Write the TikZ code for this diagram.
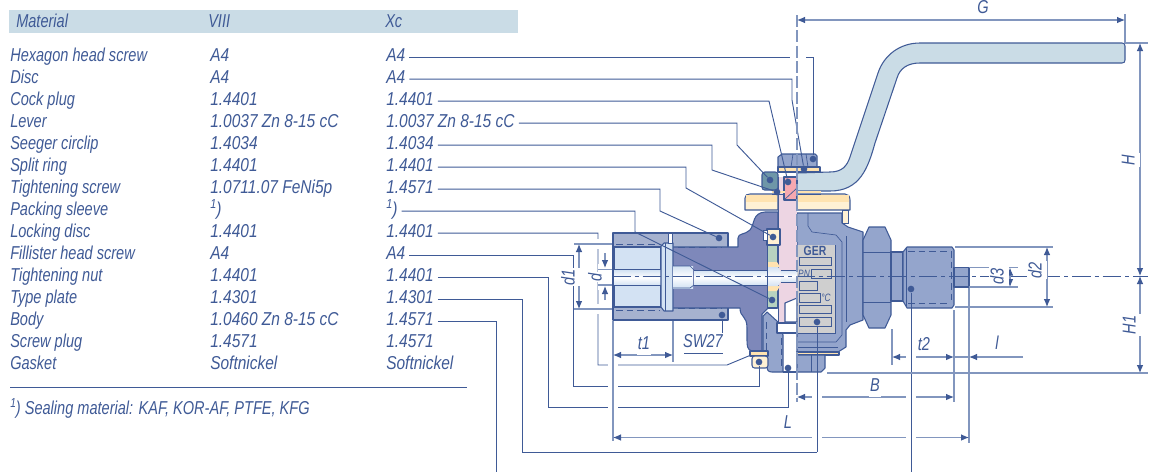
\documentclass[tikz,border=0pt]{standalone}
\usepackage{fontspec}
\usepackage{xcolor}
\usetikzlibrary{positioning,arrows.meta}

\newfontfamily\partfont{Liberation Sans}[FakeStretch=0.78]
\newfontfamily\valfont{Liberation Sans}[FakeStretch=0.83]

\definecolor{linecol}{HTML}{3F5A96}
\definecolor{dimcol}{HTML}{8296BE}
\definecolor{bandcol}{HTML}{CADCE6}
\definecolor{sleevecol}{HTML}{A6B2CF}
\definecolor{darkcol}{HTML}{7E88BA}
\definecolor{lightcol}{HTML}{94A5CC}
\definecolor{pinkcol}{HTML}{EDD5E3}
\definecolor{redcol}{HTML}{F5A8B0}
\definecolor{yellowcol}{HTML}{FFE3B0}
\definecolor{creamcol}{HTML}{FFF1D4}
\definecolor{greencol}{HTML}{B7D2C0}
\definecolor{tealcol}{HTML}{6E96A8}
\definecolor{borecol}{HTML}{D3E2F3}
\definecolor{platecol}{HTML}{CFCFCF}

\tikzset{
    txt/.style={font=\partfont\itshape\fontsize{14}{15}\selectfont, text=linecol, inner sep=0pt, text height=10pt, text depth=3pt},
    cell/.style={txt, anchor=west, yshift=-0.8pt},
    val/.style={cell, font=\valfont\itshape\fontsize{14}{15}\selectfont},
    lbl/.style={txt, fill=white, inner sep=1pt},
    part/.style={draw=linecol, line width=0.8pt, line join=round},
    thin part/.style={draw=linecol, line width=0.5pt},
    thread/.style={draw=linecol, line width=0.6pt, dashed, dash pattern=on 5pt off 3pt},
    dot/.style={circle, fill=linecol, inner sep=0pt, minimum size=5pt},
    leader/.style={draw=linecol, line width=0.7pt},
    rowleader/.style={leader, shorten <=3pt},
    extline/.style={draw=dimcol, line width=0.8pt},
    knock/.style={preaction={draw=white, line width=8pt}},
    dimline/.style={draw=dimcol, line width=0.8pt, {Latex[length=6pt,width=5pt,color=linecol]}-{Latex[length=6pt,width=5pt,color=linecol]}},
    oneway/.style={draw=dimcol, line width=0.8pt, -{Latex[length=6pt,width=5pt,color=linecol]}},
    axis/.style={draw=linecol, line width=0.6pt, dash pattern=on 14pt off 3pt on 3pt off 3pt},
    plug/.style={top color=borecol, bottom color=borecol, middle color=white},
}

\begin{document}
\begin{tikzpicture}[x=0.75pt,y=-0.75pt]
    \useasboundingbox (0,0) rectangle (1149,472);

    % table head
    \fill[bandcol] (9,10) rectangle (518,33);
    \node[cell] (headMat) at (16,22) {Material};
    \node[cell] (headA) at (208,22) {VIII};
    \node[cell] (headB) at (385,22) {Xc};

    % table rows
    \foreach \n/\y/\name/\mata/\matb in {
        screw/56/Hexagon head screw/A4/A4,
        disc/78/Disc/A4/A4,
        cock/100/Cock plug/1.4401/1.4401,
        lever/122/Lever/1.0037 Zn 8-15 cC/1.0037 Zn 8-15 cC,
        clip/144/Seeger circlip/1.4034/1.4034,
        ring/166/Split ring/1.4401/1.4401,
        tight/188/Tightening screw/1.0711.07 FeNi5p/1.4571,
        sleeve/210/Packing sleeve/\textsuperscript{1}\kern-0.5pt)/\textsuperscript{1}\kern-0.5pt),
        lock/232/Locking disc/1.4401/1.4401,
        fill/254/Fillister head screw/A4/A4,
        nut/276/Tightening nut/1.4401/1.4401,
        plate/298/Type plate/1.4301/1.4301,
        body/320/Body/1.0460 Zn 8-15 cC/1.4571,
        plugs/342/Screw plug/1.4571/1.4571,
        gasket/364/Gasket/Softnickel/Softnickel} {
        \node[cell] (\n Name) at (10,\y) {\name};
        \node[val] (\n Va) at (210,\y) {\mata};
        \node[val] (\n Xc) at (386,\y) {\matb};
    }
    \coordinate (ruleL) at (10,387);
    \coordinate (ruleR) at (467,387);
    \draw[leader] (ruleL) -- (ruleR);
    \node[cell] (note) at (10,409) {\textsuperscript{1}\kern-0.5pt) Sealing material: KAF, KOR-AF, PTFE, KFG};

    % socket end
    \draw[part,fill=sleevecol] (613,233) rectangle (728,320);
    \draw[part,fill=borecol] (614,247) rectangle (661,307);
    \draw[part,fill=darkcol] (672,247) -- (729,247) -- (738,247) -- (738,238) .. controls (738,233) and (745,235) .. (750,230) .. controls (755,224) and (752,213) .. (765,212) -- (778,212) -- (778,246) -- (768,246) -- (768,308) -- (762,314) -- (762,351) -- (752,351) .. controls (747,350) and (747,345) .. (747,340) -- (747,328) .. controls (747,315) and (740,318) .. (740,308) -- (672,308) -- cycle;
    \draw[thread] (616,244) -- (660,244);
    \draw[thread] (616,310) -- (660,310);
    \draw[thread] (678,247) -- (722,247);
    \draw[thread] (678,308) -- (722,308);

    % stem in the bore
    \shade[plug] (614,270) rectangle (661,285);
    \draw[thin part] (598,269.5) -- (661,269.5);
    \draw[thin part] (598,285) -- (661,285);
    \draw[part,fill=borecol] (661,246) -- (664,243) -- (673,243) -- (673,311) -- (664,311) -- (661,307) -- cycle;
    \draw[thin part] (665,243) -- (665,311);
    \draw[thin part,fill=white] (668,233) rectangle (672,243);
    \shade[plug] (673,266) rectangle (693,288);
    \draw[thin part] (673,266) -- (690,266) -- (694,270) -- (694,285) -- (690,288) -- (673,288);
    \shade[plug] (694,270) rectangle (770,285);
    \draw[thin part] (694,270) -- (770,270);
    \draw[thin part] (694,285) -- (770,285);

    % lever
    \draw[part,fill=bandcol] (797,173) -- (830,172) .. controls (842,172) and (847,166) .. (850,157) -- (878,73) .. controls (884,55) and (900,43) .. (920,43) -- (1122,43) .. controls (1124,43) and (1125,44) .. (1125,46) -- (1125,60) .. controls (1125,62) and (1124,63) .. (1122,63) -- (920,63) .. controls (908,63) and (900,68) .. (897,78) -- (875,143) .. controls (868,168) and (860,191) .. (830,191) -- (797,191) -- cycle;

    % right body
    \draw[part,fill=lightcol] (797,213) -- (842,213) -- (842,223) -- (848,227) -- (863,232) -- (863,320) -- (850,325) -- (846,330) -- (846,347) -- (838,352) -- (797,352) -- cycle;
    \draw[thin part] (808,213) -- (808,226) -- (812,232) -- (836,235) -- (842,242) -- (842,335) -- (836,342) -- (797,342);
    \draw[thin part] (846,236) -- (846,322);
    \draw[thin part] (797,347) -- (838,347);

    % type plate
    \fill[platecol] (797,245) rectangle (835,333);
    \draw[thin part] (835,245) -- (835,333) -- (797,333);
    \foreach \n/\xa/\ya/\xb/\yb in {boxa/799/257/831/265, boxb/811/269/831/278, boxc/799/281/817/290, boxd/799/293/820/302, boxe/799/305/831/313, boxf/799/317/831/326} {
        \draw[thin part,fill=platecol] (\xa,\ya) rectangle (\xb,\yb);
    }
    \node[font=\partfont\bfseries\fontsize{10}{10}\selectfont, text=linecol, inner sep=0pt] (ger) at (815,251) {GER};
    \node[font=\partfont\itshape\fontsize{8}{8}\selectfont, text=linecol, inner sep=0pt] (pn) at (804,274) {PN};
    \node[font=\partfont\itshape\fontsize{8}{8}\selectfont, text=linecol, inner sep=0pt] (temp) at (826,298) {°C};

    % hexagon and threaded end
    \draw[part,fill=lightcol] (869,227) -- (885,227) -- (891,240) -- (891,315) -- (885,328) -- (869,328) -- (863,315) -- (863,240) -- cycle;
    \draw[thin part] (863,252) -- (891,252);
    \draw[thin part] (863,302) -- (891,302);
    \draw[part,fill=lightcol] (891,252) rectangle (903,301);
    \draw[part,fill=lightcol] (903,252) -- (907,247) -- (952,247) -- (954,250) -- (954,305) -- (952,308) -- (907,308) -- (903,301) -- cycle;
    \draw[thin part] (906,248) -- (906,307);
    \draw[thread] (908,251) -- (950,251);
    \draw[thread] (908,303) -- (950,303);
    \draw[thread] (951,251) -- (951,303);
    \draw[part,fill=lightcol] (954,267.5) rectangle (969,287);

    % stem column
    \fill[pinkcol] (778,177) rectangle (797,322);
    \draw[thin part] (778,177) -- (778,322);
    \draw[part,fill=redcol] (784,177) -- (797,177) -- (797,200) -- (784,200) -- cycle;
    \draw[thin part] (784,200) -- (797,188);
    \draw[part,fill=greencol] (767.5,245) rectangle (777.5,308);
    \draw[part,fill=creamcol] (767,229) rectangle (780,245);
    \draw[thin part,fill=white] (763,230) rectangle (767,240);
    \fill[yellowcol] (768,262) -- (777,262) -- (780,267) -- (768,267) -- cycle;
    \fill[yellowcol] (768,291) -- (777,291) -- (780,286) -- (768,286) -- cycle;
    \shade[plug] (768,267) -- (778,267) -- (781,272) -- (781,281) -- (778,286) -- (768,286) -- cycle;
    \shade[plug] (781,270) rectangle (797,282);
    \draw[thin part] (781,270) -- (797,270);
    \draw[thin part] (781,282) -- (797,282);

    % cap with its washers
    \draw[part,fill=creamcol] (745,198) .. controls (745,195) and (747,194) .. (750,194) -- (778,194) -- (778,210) -- (745,210) -- cycle;
    \draw[part,fill=creamcol] (797,194) -- (845,194) .. controls (848,194) and (850,196) .. (850,200) -- (850,210) -- (797,210) -- cycle;
    \fill[yellowcol] (746,195) rectangle (777,202);
    \fill[yellowcol] (798,195) rectangle (849,202);
    \draw[thin part,fill=creamcol] (842,210) rectangle (848,223);
    \draw[part,fill=lightcol] (782,154) -- (815,154) -- (817,156) -- (817,167) -- (778,167) -- (778,157) -- cycle;
    \draw[thin part] (793,154) -- (791,167);
    \draw[thin part] (806,154) -- (808,167);
    \draw[part,fill=yellowcol] (778,167) rectangle (820,172);
    \draw[part,fill=tealcol,rounded corners=2pt] (762,172) rectangle (778,190);
    \fill[yellowcol] (772,191) rectangle (785,193);
    \fill[yellowcol] (796,191) rectangle (821,193);
    \draw[thin part] (772,194) -- (785,194);
    \draw[thin part] (796,194) -- (821,194);

    % lower part of the socket side
    \draw[part,fill=lightcol] (763,316) -- (767,312) -- (778,322) -- (783,335) -- (783,372) -- (772,372) .. controls (768,372) and (767,370) .. (767,366) -- (767,351) -- (763,351) -- cycle;
    \draw[thread] (766,322) -- (766,350);
    \draw[thread] (781,338) -- (781,370);
    \draw[part,fill=white] (777,323) rectangle (797,333);
    \draw[part,fill=white] (785,303) -- (797,298) -- (797,322) -- (785,322) -- cycle;
    \draw[part,fill=yellowcol] (750,351) rectangle (768,356);
    \draw[part,fill=creamcol,rounded corners=2pt] (752,356) rectangle (768,368);
    \coordinate (baseL) at (783,372);
    \coordinate (baseR) at (797,372);
    \draw[part] (baseL) -- (baseR);

    % gasket and screw plug
    \draw[part,fill=yellowcol] (797,352) rectangle (839,355);
    \draw[part,fill=lightcol] (797,355) -- (825,355) -- (825,368) -- (821,372) -- (797,372) -- cycle;
    \draw[thin part] (811,355) -- (811,372);

    % reference points
    \node[dot] (dotScrew) at (813,159) {};
    \node[dot] (dotDisc) at (804,169) {};
    \node[dot] (dotCock) at (788,182) {};
    \node[dot] (dotLever) at (770,180) {};
    \node[dot] (dotClip) at (777,192) {};
    \node[dot] (dotRing) at (773,237) {};
    \node[dot] (dotTight) at (719,238) {};
    \node[dot] (dotSleeve) at (772,300) {};
    \node[dot] (dotSw) at (722,315) {};
    \node[dot] (dotFill) at (759,362) {};
    \node[dot] (dotNut) at (788,368) {};
    \node[dot] (dotPlate) at (817,322) {};
    \node[dot] (dotBody) at (911,289) {};

    \foreach \n/\x/\y in {
        discPt/792/100, cockPt/769/100, leverPt/737/145, clipPt/712/170, ringPt/686/188,
        tightPt/660/211, sleevePt/635/232, lockPt/598/365, lockPu/727/365, lockPv/751/355,
        fillPt/573/386, nutPt/548/407, platePt/522/452, platePu/817/452, platePv/817/374, bodyPt/496/472,
        neckPt/911/312, neckPu/911/472, swPt/722/353, swPu/684/353} {
        \coordinate (\n) at (\x,\y);
    }

    % leaders from the table
    \draw[rowleader] (screwXc.east) -| (dotScrew);
    \draw[rowleader] (discXc.east) -| (discPt) -- (dotDisc);
    \draw[rowleader] (cockXc.east) -- (cockXc.east -| cockPt) -- (dotCock);
    \draw[rowleader] (leverXc.east) -| (leverPt) -- (dotLever);
    \draw[rowleader] (clipXc.east) -| (clipPt) -- (dotClip);
    \draw[rowleader] (ringXc.east) -| (ringPt) -- (dotRing);
    \draw[rowleader] (tightXc.east) -| (tightPt) -- (dotTight);
    \draw[rowleader] (sleeveXc.east) -| (sleevePt) -- (dotSleeve);
    \draw[rowleader] (lockXc.east) -| (lockPt) -- (lockPu) -- (lockPv);
    \draw[rowleader] (fillXc.east) -| (fillPt) -| (dotFill);
    \draw[rowleader] (nutXc.east) -| (nutPt) -| (dotNut);
    \draw[rowleader] (plateXc.east) -| (platePt) -- (platePu);
    \draw[leader] (dotPlate) -- (platePv);
    \draw[rowleader] (bodyXc.east) -| (bodyPt);
    \draw[leader] (dotSw) -- (swPt) -- (swPu);
    \draw[leader] (dotBody) -- (neckPt);

    \foreach \n/\x/\y in {
        gL/797/20, gR/1125/20, gTop/1125/14, gBot/1125/43,
        hTop/1140/43, hMid/1140/276, hBot/1140/373, hExtL/1125/43, hExtR/1148/43,
        lowL/827/373, lowR/1148/373, axisL/612/276, axisR/1148/276,
        dbTop/1047/247, dbBot/1047/307, dbUpL/955/247, dbUpR/1053/247, dbLoL/955/307, dbLoR/1053/307,
        dcTop/1010/267.5, dcBot/1010/287, dcUpL/969/267.5, dcUpR/1018/267.5, dcLoL/969/287, dcLoR/1018/287,
        daTop/579/244, daBot/579/309, daUpL/574/244, daUpR/612/244, daLoL/574/309, daLoR/612/309,
        inUpL/598/269.5, inUpR/612/269.5, inLoL/598/285, inLoR/612/285,
        dUp/605/253, dUpTip/605/268, dLow/605/300, dLowTip/605/286,
        sockA/613/321, sockB/613/441, sockC/673/321, sockD/673/362,
        tL/613/355, tR/673/355,
        ttA/892/329, ttB/892/365, ttC/954/310, ttD/954/402,
        ttL/892/357, ttR/954/357,
        lenR/969/288, lenS/969/443, lL/1023/357, lM/969/357,
        bL/797/397, bR/954/397, lenA/613/437.5, lenB/969/437.5,
        cenA/797/15, cenB/797/402} {
        \coordinate (\n) at (\x,\y);
    }

    % gaps in the upper leaders
    \fill[white] (790,54) rectangle (806,59);

    % dimension lines
    \draw[axis] (axisL) -- (axisR);
    \draw[dimcol,line width=0.8pt,dashed,dash pattern=on 9pt off 2.5pt] (cenA) -- (cenB);
    \draw[extline] (gTop) -- (gBot);
    \draw[extline] (hExtL) -- (hExtR);
    \draw[extline] (dbUpL) -- (dbUpR);
    \draw[extline] (dbLoL) -- (dbLoR);
    \draw[extline] (dcUpL) -- (dcUpR);
    \draw[extline] (dcLoL) -- (dcLoR);
    \draw[extline,knock] (daUpL) -- (daUpR);
    \draw[extline,knock] (daLoL) -- (daLoR);
    \draw[extline,knock] (inUpL) -- (inUpR);
    \draw[extline,knock] (inLoL) -- (inLoR);
    \draw[extline,knock] (sockA) -- (sockB);
    \draw[extline] (sockC) -- (sockD);
    \draw[extline] (ttA) -- (ttB);
    \draw[extline] (ttC) -- (ttD);
    \draw[extline] (lenR) -- (lenS);

    \draw[dimline] (gL) -- (gR);
    \draw[dimline] (hTop) -- (hMid);
    \draw[dimline] (hMid) -- (hBot);
    \draw[dimline] (dbTop) -- (dbBot);
    \draw[dimline] (dcTop) -- (dcBot);
    \draw[dimline] (daTop) -- (daBot);
    \draw[oneway] (dUp) -- (dUpTip);
    \draw[oneway] (dLow) -- (dLowTip);
    \draw[dimline] (tL) -- (tR);
    \draw[dimline] (ttL) -- (ttR);
    \draw[oneway] (lL) -- (lM);
    \draw[extline] (ttR) -- (lM);
    \draw[dimline] (bL) -- (bR);
    \draw[dimline] (lenA) -- (lenB);

    % leaders across the dimension lines
    \draw[leader,knock] (neckPt) -- (neckPu);
    \draw[leader,knock] (platePu) -- (platePv);
    \draw[extline] (lowL) -- (lowR);

    % dimension labels
    \node[lbl] (lblG) at (983,9) {G};
    \node[lbl,rotate=90] (lblH) at (1130,160) {H};
    \node[lbl,rotate=90] (lblHa) at (1131,325) {H1};
    \node[lbl,rotate=90] (lblDb) at (1037,270) {d2};
    \node[lbl,rotate=90] (lblDc) at (999,276) {d3};
    \node[lbl,rotate=90] (lblDa) at (570,277) {d1};
    \node[lbl,rotate=90] (lblD) at (597,277) {d};
    \node[lbl] (lblTa) at (644,345) {t1};
    \node[lbl] (lblSw) at (703,343) {SW27};
    \node[lbl] (lblTb) at (924,346) {t2};
    \node[lbl] (lblL) at (997,345) {l};
    \node[lbl] (lblB) at (875,387) {B};
    \node[lbl] (lblLen) at (788,424) {L};
\end{tikzpicture}
\end{document}
